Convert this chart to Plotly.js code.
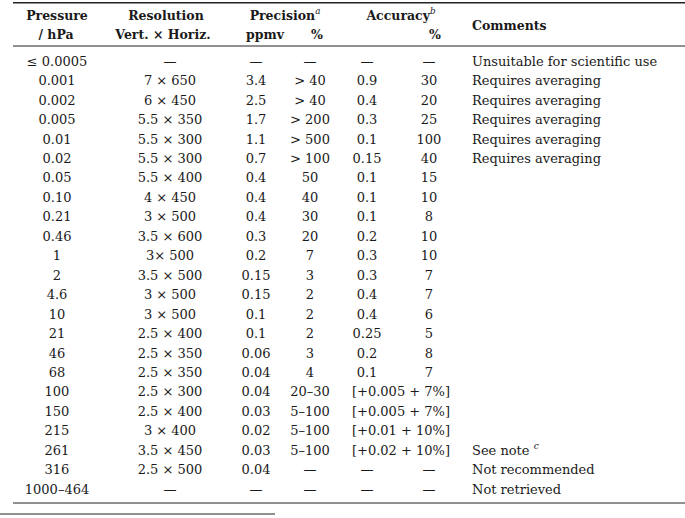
<!DOCTYPE html>
<html><head><meta charset="utf-8">
<script src="https://cdn.plot.ly/plotly-3.0.1.min.js"></script>
<style>html,body{margin:0;padding:0;background:#fff}#chart{width:685px;height:518px}</style>
</head><body><div id="chart"></div>
<script>
const pressure = ["≤ 0.0005","0.001","0.002","0.005","0.01","0.02","0.05","0.10","0.21","0.46","1","2","4.6","10","21","46","68","100","150","215","261","316","1000–464"];
const resolution = ["—","7 × 650","6 × 450","5.5 × 350","5.5 × 300","5.5 × 300","5.5 × 400","4 × 450","3 × 500","3.5 × 600","3× 500","3.5 × 500","3 × 500","3 × 500","2.5 × 400","2.5 × 350","2.5 × 350","2.5 × 300","2.5 × 400","3 × 400","3.5 × 450","2.5 × 500","—"];
const precPpmv = ["—","3.4","2.5","1.7","1.1","0.7","0.4","0.4","0.4","0.3","0.2","0.15","0.15","0.1","0.1","0.06","0.04","0.04","0.03","0.02","0.03","0.04","—"];
const precPct = ["—","> 40","> 40","> 200","> 500","> 100","50","40","30","20","7","3","2","2","2","3","4","20–30","5–100","5–100","5–100","—","—"];
const accPpmv = ["—","0.9","0.4","0.3","0.1","0.15","0.1","0.1","0.1","0.2","0.3","0.3","0.4","0.4","0.25","0.2","0.1","","","","","—","—"];
const accPct = ["—","30","20","25","100","40","15","10","8","10","10","7","7","6","5","8","7","","","","","—","—"];
const accRange = ["","","","","","","","","","","","","","","","","","[+0.005 + 7%]","[+0.005 + 7%]","[+0.01 + 10%]","[+0.02 + 10%]","",""];
const comments = ["Unsuitable for scientific use","Requires averaging","Requires averaging","Requires averaging","Requires averaging","Requires averaging","","","","","","","","","","","","","","","See note <sup><i>c</i></sup>","Not recommended","Not retrieved"];

const headTop = ["<b>Pressure</b>","<b>Resolution</b>","<b>Precision</b><sup><i>a</i></sup>","<b>Accuracy</b><sup><i>b</i></sup>"];
const headBottom = ["<b>/ hPa</b>","<b>Vert. × Horiz.</b>","<b>ppmv</b>","<b>%</b>","<b>%</b>"];
const headComments = ["<b>Comments</b>"];

// layout helpers (pixel geometry)
const W = 685, H = 518;
const row0 = 62.5, rowStep = 19.45;
const px2row = p => (p - row0) / rowStep;
const rows = pressure.map((_, i) => i);
const FONT = {family: "DejaVu Serif", size: 13, color: "#1a1a1a"};
const HFONT = {family: "DejaVu Serif", size: 12.5, color: "#1a1a1a"};

function col(texts, x, pos) {
  const xs = [], ys = [], ts = [];
  texts.forEach((t, i) => { if (t !== "") { xs.push(x); ys.push(rows[i]); ts.push(t); } });
  return {type: "scatter", mode: "text", x: xs, y: ys, text: ts,
          textposition: pos || "middle center", textfont: FONT, hoverinfo: "skip", showlegend: false, cliponaxis: false};
}
function hdr(texts, xs, ys, pos) {
  return {type: "scatter", mode: "text", x: xs, y: ys, text: texts,
          textposition: pos || "middle center", textfont: HFONT, hoverinfo: "skip", showlegend: false, cliponaxis: false};
}

const data = [
  col(pressure, 57),
  col(resolution, 170),
  col(precPpmv, 256),
  col(precPct, 310),
  col(accPpmv, 367),
  col(accPct, 429),
  col(accRange, 401),
  col(comments, 472, "middle right"),
  hdr(headTop, [57, 166, 285, 401], [16.5, 16.5, 16.5, 16.5].map(px2row)),
  hdr(headBottom, [56, 163, 265, 317, 435], [35.5, 35.5, 35.5, 35.5, 35.5].map(px2row)),
  hdr(headComments, [472], [px2row(26.5)], "middle right")
];

const yTop = px2row(0), yBot = px2row(H);
const rule = (x0, x1, p, w) => ({type: "line", xref: "x", yref: "paper", x0: x0, x1: x1,
  y0: 1 - p / H, y1: 1 - p / H, line: {color: "#222", width: w}});

const layout = {
  width: W, height: H, margin: {l: 0, r: 0, t: 0, b: 0},
  paper_bgcolor: "#fff", plot_bgcolor: "#fff",
  xaxis: {range: [0, W], visible: false, fixedrange: true},
  yaxis: {range: [yBot, yTop], visible: false, fixedrange: true},
  shapes: [rule(13, W, 2.7, 1.6), rule(13, W, 46, 1), rule(13, W, 503, 1), rule(0, 275, 514, 1)],
  font: FONT
};
Plotly.newPlot("chart", data, layout, {displayModeBar: false, staticPlot: true});
</script></body></html>
